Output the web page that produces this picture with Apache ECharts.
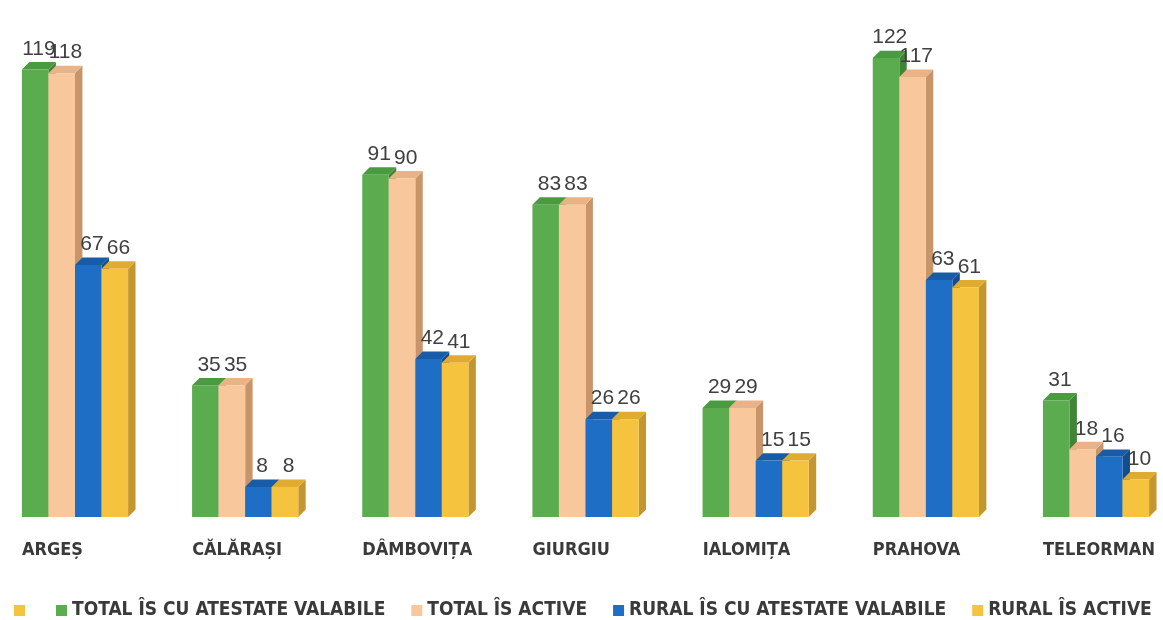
<!DOCTYPE html>
<html>
<head>
<meta charset="utf-8">
<script src="https://cdn.jsdelivr.net/npm/echarts@6/dist/echarts.min.js"></script>
<style>
html,body{margin:0;padding:0;background:#fff;}
#chart{width:1163px;height:620px;}
</style>
</head>
<body>
<div id="chart"></div>
<script>
var categories = ['ARGEȘ', 'CĂLĂRAȘI', 'DÂMBOVIȚA', 'GIURGIU', 'IALOMIȚA', 'PRAHOVA', 'TELEORMAN'];
var seriesNames = ['TOTAL ÎS CU ATESTATE VALABILE', 'TOTAL ÎS ACTIVE', 'RURAL ÎS CU ATESTATE VALABILE', 'RURAL ÎS ACTIVE'];
var totalAtestate = [119, 35, 91, 83, 29, 122, 31];
var totalActive = [118, 35, 90, 83, 29, 117, 18];
var ruralAtestate = [67, 8, 42, 26, 15, 63, 16];
var ruralActive = [66, 8, 41, 26, 15, 61, 10];

var seriesValues = [totalAtestate, totalActive, ruralAtestate, ruralActive];
var palette = [
  {front: '#5aac4e', top: '#4a9a40', side: '#3f8437'},
  {front: '#f9c79c', top: '#e9b287', side: '#c8956b'},
  {front: '#1f6ec6', top: '#185ba6', side: '#154d8c'},
  {front: '#f6c33e', top: '#e0ac30', side: '#c49630'}
];
var labelFont = "'Liberation Sans Narrow', 'DejaVu Sans Condensed', 'Liberation Sans', sans-serif";
var numFont = "'Liberation Sans', 'DejaVu Sans', sans-serif";

function makeRender(i) {
  var c = palette[i];
  return function (params, api) {
    var cat = api.value(0), val = api.value(1);
    var base = api.coord([cat, 0]);
    var top = api.coord([cat, val]);
    var band = api.size([1, 0])[0];
    var w = band * 0.156;
    var d = w * 0.28;
    var x0 = base[0] - 2 * w + i * w;
    var y0 = top[1], y1 = base[1];
    return {
      type: 'group',
      children: [
        {type: 'polygon', shape: {points: [[x0 + w, y0], [x0 + w + d, y0 - d], [x0 + w + d, y1 - d], [x0 + w, y1]]}, style: {fill: c.side}},
        {type: 'polygon', shape: {points: [[x0, y0], [x0 + d, y0 - d], [x0 + w + d, y0 - d], [x0 + w, y0]]}, style: {fill: c.top}},
        {
          type: 'rect', shape: {x: x0, y: y0, width: w, height: y1 - y0}, style: {fill: c.front},
          textContent: {style: {text: String(val), fill: '#404040', fontSize: 21, fontFamily: numFont}},
          textConfig: {position: 'top', distance: 10, offset: [d / 2, 0]}
        }
      ]
    };
  };
}

var series = [{
  name: '\u200b', type: 'custom', xAxisIndex: 0, yAxisIndex: 0, data: [],
  itemStyle: {color: '#f6c33e'}, renderItem: function () { return null; }
}];
seriesNames.forEach(function (n, i) {
  series.push({
    name: n, type: 'custom', xAxisIndex: 0, yAxisIndex: 0, clip: false,
    itemStyle: {color: palette[i].front},
    data: seriesValues[i].map(function (v, k) { return [k, v]; }),
    renderItem: makeRender(i)
  });
});

var chart = echarts.init(document.getElementById('chart'), null, {renderer: 'canvas'});
chart.setOption({
  backgroundColor: '#ffffff',
  animation: false,
  grid: [
    {left: 75, width: 1021, top: 28, bottom: 103, containLabel: false},
    {left: 22, width: 1021, top: 28, bottom: 103, containLabel: false}
  ],
  xAxis: [
    {type: 'category', gridIndex: 0, data: categories, boundaryGap: false, axisLine: {show: false}, axisTick: {show: false}, axisLabel: {show: false}, splitLine: {show: false}},
    {type: 'category', gridIndex: 1, data: categories, boundaryGap: false, axisLine: {show: false}, axisTick: {show: false}, splitLine: {show: false},
     axisLabel: {show: true, interval: 0, align: 'left', margin: 24, fontSize: 18, fontWeight: 'bold', color: '#3a3a3a', fontFamily: labelFont}}
  ],
  yAxis: [
    {type: 'value', gridIndex: 0, min: 0, max: 130, show: false, splitLine: {show: false}},
    {type: 'value', gridIndex: 1, min: 0, max: 130, show: false, splitLine: {show: false}}
  ],
  legend: {
    left: 9, top: 596, itemWidth: 11, itemHeight: 11, itemGap: 26, icon: 'rect',
    textStyle: {fontSize: 19, fontWeight: 'bold', color: '#3a3a3a', fontFamily: labelFont},
    data: ['\u200b'].concat(seriesNames)
  },
  series: series
});
</script>
</body>
</html>
